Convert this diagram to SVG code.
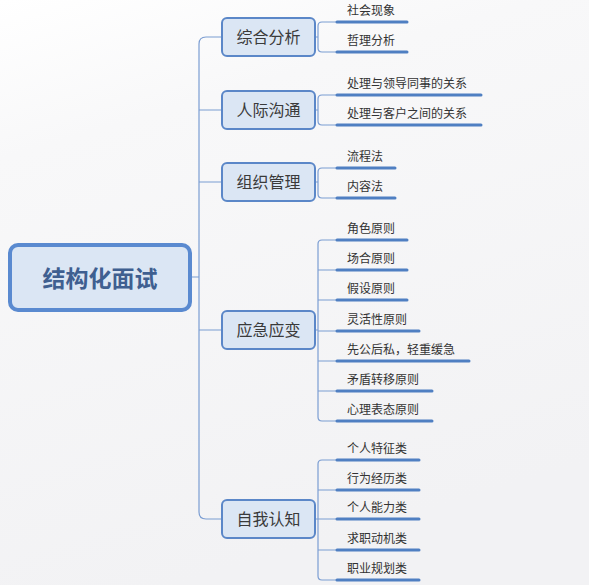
<svg xmlns="http://www.w3.org/2000/svg" width="589" height="585" viewBox="0 0 589 585">
<defs>
<linearGradient id="bg" x1="0" y1="0" x2="0.3" y2="1">
<stop offset="0" stop-color="#ffffff"/>
<stop offset="0.25" stop-color="#f8f8f9"/>
<stop offset="1" stop-color="#f2f2f4"/>
</linearGradient>
<style>
.thin{fill:none;stroke:#7b9dd2;stroke-width:1.2}
.ul{fill:none;stroke:#4f7fc2;stroke-width:3;stroke-linecap:round}
.box{fill:#dbe6f4;stroke:#5b87c8;stroke-width:2}
.bt{font-family:"Noto Sans CJK SC","Noto Sans",sans-serif;font-size:16px;fill:#3a3a3a;text-anchor:middle}
.st{font-family:"Noto Sans CJK SC","Noto Sans",sans-serif;font-size:12px;fill:#333333}
</style>
</defs>
<rect width="589" height="585" fill="url(#bg)"/>
<g id="connectors">
<path class="thin" d="M222 37 H206 Q199 37 199 44 V512 Q199 519 206 519 H222"/>
<path class="thin" d="M199 110 H222 M199 182 H222 M199 330 H222 M192 277 H199"/>
<path class="thin" d="M315 37 H318 M337 22 H322 Q318 22 318 26 V48 Q318 52 322 52 H337"/>
<path class="thin" d="M315 110 H318 M337 95 H322 Q318 95 318 99 V121 Q318 125 322 125 H337"/>
<path class="thin" d="M315 182 H318 M337 168 H322 Q318 168 318 172 V194 Q318 198 322 198 H337"/>
<path class="thin" d="M315 330 H318 M337 240 H322 Q318 240 318 244 V417 Q318 421 322 421 H337 M318 270 H337 M318 300 H337 M318 331 H337 M318 361 H337 M318 391 H337"/>
<path class="thin" d="M315 519 H318 M337 460 H322 Q318 460 318 464 V576 Q318 580 322 580 H337 M318 490 H337 M318 519 H337 M318 550 H337"/>
<path class="ul" d="M337 22 H407 M337 52 H407 M337 95 H481 M337 125 H481 M337 168 H395 M337 198 H395 M337 240 H407 M337 270 H407 M337 300 H407 M337 331 H419 M337 361 H469 M337 391 H432 M337 421 H432 M337 460 H419 M337 490 H419 M337 519 H419 M337 550 H419 M337 580 H419"/>
</g>
<g id="root">
<rect x="10" y="245" width="180" height="65" rx="8" fill="#dbe6f4" stroke="#5a8ad0" stroke-width="4"/>
<text x="100" y="287" font-family="'Noto Sans CJK SC','Noto Sans',sans-serif" font-size="23" font-weight="bold" fill="#3f5f90" text-anchor="middle">结构化面试</text>
</g>
<g id="n1">
<rect class="box" x="222" y="18" width="93" height="38" rx="5"/>
<text class="bt" x="268.5" y="43">综合分析</text>
<text class="st" x="347" y="15">社会现象</text>
<text class="st" x="347" y="45">哲理分析</text>
</g>
<g id="n2">
<rect class="box" x="222" y="91" width="93" height="38" rx="5"/>
<text class="bt" x="268.5" y="116">人际沟通</text>
<text class="st" x="347" y="88">处理与领导同事的关系</text>
<text class="st" x="347" y="118">处理与客户之间的关系</text>
</g>
<g id="n3">
<rect class="box" x="222" y="163" width="93" height="38" rx="5"/>
<text class="bt" x="268.5" y="188">组织管理</text>
<text class="st" x="347" y="161">流程法</text>
<text class="st" x="347" y="191">内容法</text>
</g>
<g id="n4">
<rect class="box" x="222" y="311" width="93" height="38" rx="5"/>
<text class="bt" x="268.5" y="336">应急应变</text>
<text class="st" x="347" y="233">角色原则</text>
<text class="st" x="347" y="263">场合原则</text>
<text class="st" x="347" y="293">假设原则</text>
<text class="st" x="347" y="324">灵活性原则</text>
<text class="st" x="347" y="354">先公后私，轻重缓急</text>
<text class="st" x="347" y="384">矛盾转移原则</text>
<text class="st" x="347" y="414">心理表态原则</text>
</g>
<g id="n5">
<rect class="box" x="222" y="500" width="93" height="38" rx="5"/>
<text class="bt" x="268.5" y="525">自我认知</text>
<text class="st" x="347" y="453">个人特征类</text>
<text class="st" x="347" y="483">行为经历类</text>
<text class="st" x="347" y="512">个人能力类</text>
<text class="st" x="347" y="543">求职动机类</text>
<text class="st" x="347" y="573">职业规划类</text>
</g>
</svg>
